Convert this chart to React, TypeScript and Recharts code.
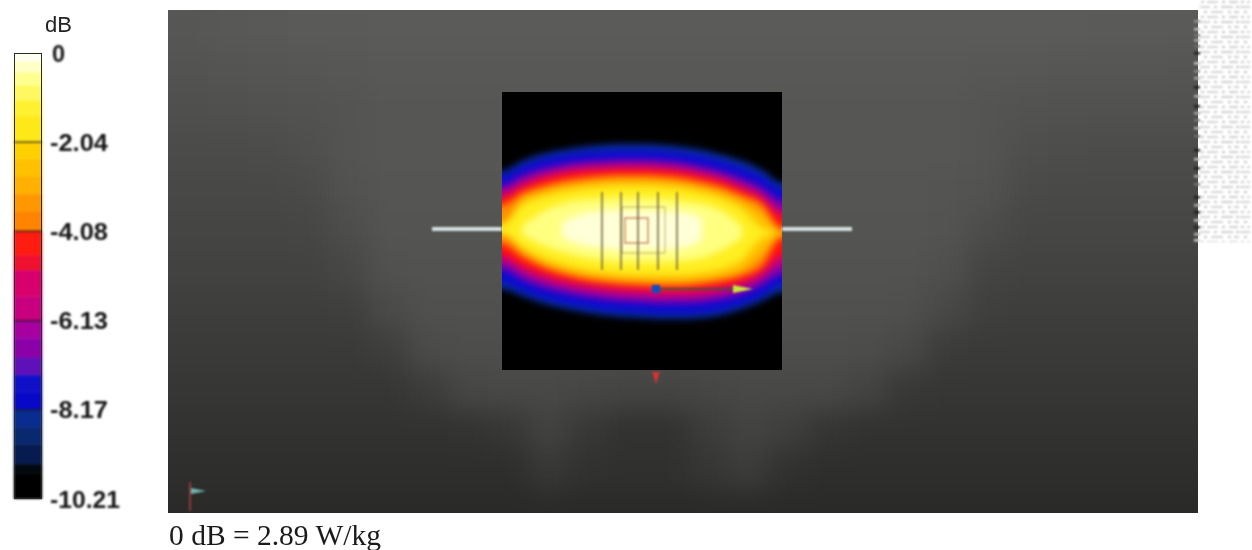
import {
  Area,
  Bar,
  BarChart,
  ComposedChart,
  ReferenceArea,
  ReferenceLine,
  Scatter,
  XAxis,
  YAxis,
} from "recharts";

// colour scale
const scaleTicks = [0, -2.04, -4.08, -6.13, -8.17, -10.21];
const scaleSteps = [0.2, 0.25, 0.3, 0.35, 0.35, 0.59, 0.4, 0.4, 0.4, 0.4, 0.44, 0.55, 0.35, 0.6, 0.55, 0.4, 0.45, 0.4, 0.4, 0.39, 0.4, 0.4, 0.45, 0.2, 0.59];
const scaleColors = ["#fffff0", "#ffffc8", "#ffff90", "#fff860", "#fff030", "#ffe818", "#ffd000", "#ffc000", "#ffb000", "#ff9800", "#ff8400", "#ff1c10", "#f01030", "#d8006c", "#c80080", "#a800a0", "#8c00a8", "#6010b8", "#1010c8", "#0808c8", "#082c90", "#082870", "#061c50", "#020810", "#000000"];

// phantom background brightness, 40px cells
const panelXs = [188, 228, 268, 308, 348, 388, 428, 468, 508, 548, 588, 628, 668, 708, 748, 788, 828, 868, 908, 948, 988, 1028, 1068, 1108, 1148, 1188];
const panelYs = [30, 70, 110, 150, 190, 230, 270, 310, 350, 390, 430, 470, 510];
const panelRows = [
  [86, 88, 89, 90, 90, 91, 91, 91, 91, 91, 91, 91, 91, 91, 91, 91, 91, 91, 91, 91, 91, 91, 91, 90, 90, 90],
  [83, 84, 85, 86, 87, 88, 88, 88, 88, 88, 88, 88, 88, 88, 88, 88, 88, 88, 88, 88, 87, 87, 86, 86, 86, 85],
  [79, 80, 81, 82, 84, 86, 86, 86, 86, 86, 86, 86, 86, 86, 86, 86, 86, 86, 86, 86, 84, 82, 81, 81, 81, 81],
  [75, 75, 76, 79, 84, 86, 86, 86, 86, 86, 86, 86, 86, 86, 86, 86, 86, 86, 86, 86, 84, 78, 77, 76, 76, 76],
  [72, 72, 72, 74, 82, 85, 85, 85, 85, 85, 85, 85, 85, 85, 85, 85, 85, 85, 85, 84, 82, 74, 73, 73, 73, 73],
  [69, 69, 69, 70, 77, 84, 84, 84, 84, 84, 84, 84, 84, 84, 84, 84, 84, 84, 84, 83, 76, 70, 70, 70, 70, 70],
  [66, 66, 66, 66, 71, 81, 82, 82, 82, 82, 82, 82, 82, 82, 82, 82, 82, 82, 82, 79, 68, 66, 66, 66, 66, 66],
  [62, 62, 62, 62, 63, 74, 80, 80, 80, 80, 80, 80, 80, 80, 80, 80, 80, 80, 79, 72, 63, 62, 62, 62, 62, 62],
  [58, 58, 58, 58, 58, 62, 75, 77, 77, 77, 77, 77, 77, 77, 77, 77, 77, 76, 72, 59, 58, 58, 58, 58, 58, 58],
  [54, 54, 54, 54, 54, 54, 60, 71, 72, 72, 70, 68, 68, 70, 72, 72, 72, 67, 56, 54, 54, 54, 54, 54, 54, 54],
  [50, 50, 50, 50, 50, 50, 50, 51, 55, 66, 56, 50, 50, 60, 67, 63, 53, 50, 50, 50, 50, 50, 50, 50, 50, 50],
  [46, 46, 46, 46, 46, 46, 46, 46, 46, 56, 49, 48, 48, 54, 60, 49, 46, 46, 46, 46, 46, 46, 46, 46, 46, 46],
  [42, 42, 42, 42, 42, 42, 42, 42, 42, 42, 42, 42, 42, 42, 42, 42, 42, 42, 42, 42, 42, 42, 42, 42, 42, 42],
];

// heat map contours: top and bottom edge of each band per column
const heatXs = [502, 522, 542, 562, 582, 602, 622, 642, 662, 682, 702, 722, 742, 762, 782];
const bandNames = ["rim", "blue", "purple", "magenta", "red", "orange", "amber", "yellow", "pale", "cream"];
const bandColors = ["#0a30a0", "#0a0ad0", "#7a00b0", "#c80078", "#ff1010", "#ff8c00", "#ffc000", "#ffee20", "#ffff80", "#ffffd8"];
const bandTops = [
  [171, 161, 154, 150, 147, 145, 144, 144, 145, 147, 150, 155, 161, 170, 183],
  [175, 166, 159, 155, 152, 151, 150, 150, 151, 153, 156, 161, 168, 176, 189],
  [185, 175, 168, 164, 161, 160, 159, 159, 160, 162, 166, 171, 178, 187, 200],
  [191, 181, 174, 169, 166, 165, 164, 164, 165, 167, 171, 176, 184, 193, 209],
  [197, 187, 179, 174, 171, 170, 169, 169, 170, 172, 176, 181, 189, 199, 216],
  [205, 193, 186, 181, 178, 176, 175, 175, 176, 178, 182, 187, 195, 204, 228],
  [222, 199, 191, 186, 183, 181, 180, 180, 181, 183, 187, 192, 201, 213, 232],
  [226, 205, 197, 192, 189, 187, 186, 186, 187, 189, 193, 199, 209, 228, 233],
  [null, 226, 212, 204, 200, 199, 198, 198, 199, 201, 204, 211, 226, null, null],
  [null, null, null, 222, 214, 211, 210, 210, 211, 212, 218, null, null, null, null],
];
const bandBottoms = [
  [289, 296, 303, 308, 312, 315, 317, 318, 319, 319, 318, 315, 309, 301, 292],
  [283, 291, 298, 303, 307, 310, 312, 313, 314, 314, 313, 310, 304, 296, 285],
  [270, 280, 288, 293, 297, 300, 302, 303, 304, 304, 303, 300, 295, 286, 275],
  [262, 273, 281, 287, 291, 294, 296, 297, 298, 298, 297, 294, 289, 279, 265],
  [255, 266, 274, 280, 284, 287, 289, 290, 291, 291, 290, 287, 282, 272, 255],
  [244, 257, 267, 274, 279, 282, 284, 285, 286, 286, 284, 281, 276, 266, 238],
  [235, 251, 263, 270, 275, 278, 280, 281, 282, 282, 280, 277, 271, 254, 234],
  [233, 247, 257, 264, 269, 272, 274, 275, 275, 275, 273, 269, 260, 238, 233],
  [null, 235, 245, 252, 257, 260, 262, 262, 262, 261, 258, 250, 238, null, null],
  [null, null, null, 238, 245, 248, 250, 250, 250, 248, 241, null, null, null, null],
];

// overlays
const probeLeft = [432, 502];
const probeRight = [782, 852];
const probeY = 229;
const gridLineXs = [602, 621, 638, 658, 677];
const gridLineSpan = [192, 270];
const outerSquare = [622, 665, 207, 253];
const innerSquare = [625, 648, 218, 243];
const markerXs = [656, 743, 656, 198];
const markerYs = [289, 289, 376, 491];
const markerKinds = ["dot", "arrow", "red", "flag"];
const edgeTickYs = [21, 29, 35, 40, 46, 53, 63, 71, 78, 87, 96, 106, 113, 120, 128, 136, 150, 159, 168, 176, 184, 197, 205, 212, 220, 227, 234, 240];
const edgeTickGrays = [150, 190, 120, 170, 110, 30, 200, 140, 170, 30, 180, 30, 170, 120, 180, 110, 30, 190, 30, 170, 120, 30, 170, 30, 190, 30, 180, 210];

const panelTable: { x: number; y: number; gray: number }[] = [];
// one extra ring of cells repeats the edge, so the blur does not fade at the border
for (let r = -1; r <= panelYs.length; r++) {
  for (let c = -1; c <= panelXs.length; c++) {
    const row = panelRows[Math.max(0, Math.min(panelYs.length - 1, r))];
    panelTable.push({
      x: 188 + 40 * c,
      y: 30 + 40 * r,
      gray: row[Math.max(0, Math.min(panelXs.length - 1, c))],
    });
  }
}

const columnXs = [482, ...heatXs, 802];
const heatTable = columnXs.map((x, i) => {
  const col = Math.max(0, Math.min(heatXs.length - 1, i - 1));
  const row: Record<string, number | number[] | null> = { x };
  bandNames.forEach((name, b) => {
    const top = bandTops[b][col];
    const bottom = bandBottoms[b][col];
    row[name] = top === null || bottom === null ? null : [top, bottom];
  });
  return row;
});

const scaleTable = [
  Object.fromEntries([["name", "scale"], ...scaleSteps.map((v, i) => [`s${i}`, -v])]),
];

const markerTable = markerXs.map((x, i) => ({ x, y: markerYs[i], kind: markerKinds[i] }));
const edgeTable = edgeTickYs.map((y, i) => ({ x: 1197, y, gray: edgeTickGrays[i] }));

const PanelCell = (props: any) => {
  const g = props.payload.gray;
  return <rect x={props.cx - 20} y={props.cy - 20} width={40.5} height={40.5} fill={`rgb(${g},${g},${g - 2})`} />;
};

const Marker = (props: any) => {
  const { cx, cy } = props;
  const kind = props.payload.kind;
  if (kind === "dot") return <rect x={cx - 4} y={cy - 4} width={8} height={8} fill="#0a50c8" />;
  if (kind === "arrow") return <path d={`M${cx - 10} ${cy - 4}L${cx + 10} ${cy}L${cx - 10} ${cy + 4}Z`} fill="#c8e838" />;
  if (kind === "red") return <path d={`M${cx - 4} ${cy - 4}L${cx + 4} ${cy - 4}L${cx} ${cy + 8}Z`} fill="#d03434" />;
  return (
    <g>
      <path d={`M${cx - 8} ${cy - 9}V${cy + 20}`} stroke="#8c3c38" strokeWidth={2} />
      <path d={`M${cx - 7} ${cy - 3}L${cx + 8} ${cy}L${cx - 7} ${cy + 3}Z`} fill="#70b8b0" />
    </g>
  );
};

const EdgeTick = (props: any) => {
  const g = props.payload.gray;
  return <rect x={props.cx - 3} y={props.cy - 1} width={6} height={2.5} fill={`rgb(${g},${g},${g})`} />;
};

const ScaleTick = (props: any) => {
  const { y, payload } = props;
  const v = payload.value;
  return (
    <text
      x={v === 0 ? 52 : 50}
      y={y + 8.5}
      fontFamily="Liberation Sans"
      fontWeight={700}
      fontSize={23.5}
      fill="#151515"
      textLength={v === 0 ? undefined : v === -10.21 ? 70 : 58}
      lengthAdjust="spacingAndGlyphs"
    >
      {v === 0 ? "0" : String(v)}
    </text>
  );
};

export default function App() {
  return (
    <div style={{ position: "fixed", left: 0, top: 0, width: 1252, height: 550, background: "#fff", overflow: "hidden" }}>
      {/* phantom */}
      <div style={{ position: "absolute", left: 168, top: 10, width: 1030, height: 503, overflow: "hidden" }}>
        <div style={{ position: "absolute", left: -60, top: -60, filter: "blur(13px)" }}>
          <ComposedChart width={1150} height={623} margin={{ top: 0, right: 0, bottom: 0, left: 0 }} data={panelTable}>
            <XAxis type="number" dataKey="x" domain={[108, 1258]} hide allowDataOverflow />
            <YAxis type="number" dataKey="y" domain={[-50, 573]} reversed hide allowDataOverflow />
            <Scatter data={panelTable} shape={PanelCell} isAnimationActive={false} />
          </ComposedChart>
        </div>
      </div>

      {/* heat map */}
      <div style={{ position: "absolute", left: 502, top: 92, width: 280, height: 278, overflow: "hidden", background: "#000" }}>
        <div style={{ position: "absolute", left: -20, top: 0, filter: "blur(3.5px)" }}>
          <ComposedChart width={320} height={278} margin={{ top: 0, right: 0, bottom: 0, left: 0 }} data={heatTable}>
            <XAxis type="number" dataKey="x" domain={[482, 802]} hide allowDataOverflow />
            <YAxis type="number" domain={[92, 370]} reversed hide allowDataOverflow />
            {bandNames.map((name, i) => (
              <Area
                key={name}
                dataKey={name}
                type="monotone"
                fill={bandColors[i]}
                fillOpacity={1}
                stroke="none"
                dot={false}
                activeDot={false}
                isAnimationActive={false}
              />
            ))}
          </ComposedChart>
        </div>
      </div>

      {/* probe, grid and markers */}
      <div style={{ position: "absolute", left: 0, top: 0, filter: "blur(0.9px)" }}>
        <ComposedChart width={1252} height={550} margin={{ top: 0, right: 0, bottom: 0, left: 0 }}>
          <defs>
            <pattern id="dither" width="40" height="15" patternUnits="userSpaceOnUse">
              <rect x="1" y="1" width="3" height="2" fill="#c8c8c8" />
              <rect x="7" y="1" width="11" height="2" fill="#d4d4d4" />
              <rect x="22" y="1" width="3" height="2" fill="#c4c4c4" />
              <rect x="29" y="1" width="9" height="2" fill="#d0d0d0" />
              <rect x="0" y="6" width="10" height="2" fill="#d4d4d4" />
              <rect x="14" y="6" width="3" height="2" fill="#c8c8c8" />
              <rect x="21" y="6" width="12" height="2" fill="#d0d0d0" />
              <rect x="36" y="6" width="3" height="2" fill="#c8c8c8" />
              <rect x="4" y="11" width="3" height="2" fill="#c4c4c4" />
              <rect x="11" y="11" width="12" height="2" fill="#d4d4d4" />
              <rect x="28" y="11" width="3" height="2" fill="#c8c8c8" />
              <rect x="34" y="11" width="5" height="2" fill="#d0d0d0" />
            </pattern>
          </defs>
          <XAxis type="number" dataKey="x" domain={[0, 1252]} hide allowDataOverflow />
          <YAxis type="number" dataKey="y" domain={[0, 550]} reversed hide allowDataOverflow />
          <ReferenceArea x1={1200} x2={1250} y1={0} y2={242} fill="url(#dither)" fillOpacity={1} stroke="none" />
          <ReferenceLine segment={[{ x: probeLeft[0], y: probeY }, { x: probeLeft[1], y: probeY }]} stroke="#d6e2e2" strokeWidth={4} />
          <ReferenceLine segment={[{ x: probeRight[0], y: probeY }, { x: probeRight[1], y: probeY }]} stroke="#d6e2e2" strokeWidth={4} />
          {gridLineXs.map((x) => (
            <ReferenceLine
              key={x}
              segment={[{ x, y: gridLineSpan[0] }, { x, y: gridLineSpan[1] }]}
              stroke="#6e6440"
              strokeOpacity={0.85}
              strokeWidth={1.8}
            />
          ))}
          <ReferenceArea x1={outerSquare[0]} x2={outerSquare[1]} y1={outerSquare[2]} y2={outerSquare[3]} fill="none" stroke="#a08850" strokeOpacity={0.7} />
          <ReferenceArea x1={innerSquare[0]} x2={innerSquare[1]} y1={innerSquare[2]} y2={innerSquare[3]} fill="none" stroke="#d08a60" strokeWidth={1.5} />
          <ReferenceLine segment={[{ x: markerXs[0], y: markerYs[0] }, { x: markerXs[1], y: markerYs[1] }]} stroke="#20603c" strokeWidth={1.5} />
          <Scatter data={markerTable} shape={Marker} isAnimationActive={false} />
          <Scatter data={edgeTable} shape={EdgeTick} isAnimationActive={false} />
        </ComposedChart>
      </div>

      {/* colour scale */}
      <div style={{ position: "absolute", left: 0, top: 0, filter: "blur(0.8px)" }}>
        <BarChart width={1252} height={550} margin={{ top: 53, right: 1112, bottom: 51, left: 14 }} data={scaleTable} barCategoryGap={0}>
          <XAxis dataKey="name" hide />
          <YAxis
            orientation="right"
            width={98}
            type="number"
            domain={[-10.21, 0]}
            allowDataOverflow
            ticks={scaleTicks}
            interval={0}
            axisLine={false}
            tickLine={false}
            tick={ScaleTick}
          />
          {scaleSteps.map((_, i) => (
            <Bar key={i} dataKey={`s${i}`} stackId="scale" fill={scaleColors[i]} stroke={scaleColors[i]} strokeWidth={0.5} isAnimationActive={false} />
          ))}
          {scaleTicks.slice(1, 5).map((v) => (
            <ReferenceLine key={v} y={v} stroke="#1a1a1a" strokeOpacity={0.75} strokeWidth={1.5} />
          ))}
        </BarChart>
      </div>
      <div style={{ position: "absolute", left: 14, top: 53, width: 28, height: 446, boxSizing: "border-box", border: "1.5px solid #2a2a2a", filter: "blur(0.4px)" }} />
      <div style={{ position: "absolute", left: 45, top: 12, fontFamily: "Liberation Sans", fontSize: 22, color: "#222", filter: "blur(0.5px)" }}>dB</div>
      <div style={{ position: "absolute", left: 169, top: 518, fontFamily: "Liberation Serif", fontSize: 29.5, lineHeight: "34px", color: "#1a1a1a", whiteSpace: "nowrap", filter: "blur(0.4px)" }}>
        0 dB = 2.89 W/kg
      </div>
    </div>
  );
}
